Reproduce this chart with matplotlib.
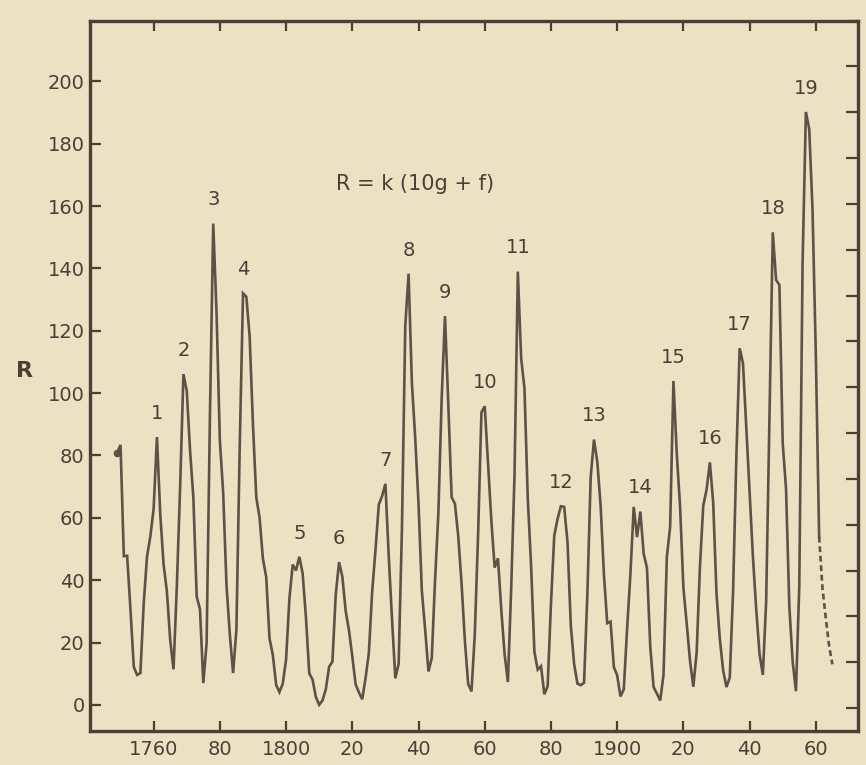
import numpy as np
import matplotlib
matplotlib.use("Agg")
import matplotlib.pyplot as plt

# yearly sunspot numbers (solid part)
years = np.arange(1749, 1962)
spots = [
    80.9, 83.4, 47.7, 47.8, 30.7, 12.2, 9.6, 10.2, 32.4, 47.6,
    54.0, 62.9, 85.9, 61.2, 45.1, 36.4, 20.9, 11.4, 37.8, 69.8,
    106.1, 100.8, 81.6, 66.5, 34.8, 30.6, 7.0, 19.8, 92.5, 154.4,
    125.9, 84.8, 68.1, 38.5, 22.8, 10.2, 24.1, 82.9, 132.0, 130.9,
    118.1, 89.9, 66.6, 60.0, 46.9, 41.0, 21.3, 16.0, 6.4, 4.1,
    6.8, 14.5, 34.0, 45.0, 43.1, 47.5, 42.2, 28.1, 10.1, 8.1,
    2.5, 0.0, 1.4, 5.0, 12.2, 13.9, 35.4, 45.8, 41.1, 30.1,
    23.9, 15.6, 6.6, 4.0, 1.8, 8.5, 16.6, 36.3, 49.6, 64.2,
    67.0, 70.9, 47.8, 27.5, 8.5, 13.2, 56.9, 121.5, 138.3, 103.2,
    85.7, 64.6, 36.7, 24.2, 10.7, 15.0, 40.1, 61.5, 98.5, 124.7,
    96.3, 66.6, 64.5, 54.1, 39.0, 20.6, 6.7, 4.3, 22.7, 54.8,
    93.8, 95.8, 77.2, 59.1, 44.0, 47.0, 30.5, 16.3, 7.3, 37.6,
    74.0, 139.0, 111.2, 101.6, 66.2, 44.7, 17.0, 11.3, 12.4, 3.4,
    6.0, 32.3, 54.3, 59.7, 63.7, 63.5, 52.2, 25.4, 13.1, 6.8,
    6.3, 7.1, 35.6, 73.0, 85.1, 78.0, 64.0, 41.8, 26.2, 26.7,
    12.1, 9.5, 2.7, 5.0, 24.4, 42.0, 63.5, 53.8, 62.0, 48.5,
    43.9, 18.6, 5.7, 3.6, 1.4, 9.6, 47.4, 57.1, 103.9, 80.6,
    63.6, 37.6, 26.1, 14.2, 5.8, 16.7, 44.3, 63.9, 69.0, 77.8,
    64.9, 35.7, 21.2, 11.1, 5.7, 8.7, 36.1, 79.7, 114.4, 109.6,
    88.8, 67.8, 47.5, 30.6, 16.3, 9.6, 33.2, 92.6, 151.6, 136.3,
    134.7, 83.9, 69.4, 31.5, 13.9, 4.4, 38.0, 141.7, 190.2, 184.8,
    159.0, 112.3, 53.9,
]

# dashed tail (forecast)
tail_years = [1961, 1962, 1963, 1964, 1965]
tail_spots = [53.9, 37.5, 27.9, 19.0, 13.0]

# cycle numbers and the year of each maximum
cycle_labels = [str(i) for i in range(1, 20)]
cycle_peaks = [1761, 1769, 1778, 1787, 1804, 1816, 1830, 1837, 1848, 1860,
               1870, 1883, 1893, 1907, 1917, 1928, 1937, 1947, 1957]

xticks = [1760, 1780, 1800, 1820, 1840, 1860, 1880, 1900, 1920, 1940, 1960]
xtick_labels = ["1760", "80", "1800", "20", "40", "60", "80", "1900", "20", "40", "60"]
yticks = list(range(0, 201, 20))

paper = "#ece1c3"
ink = "#4b4036"
line_ink = "#5e5246"

plt.rcParams["font.family"] = ["DejaVu Sans"]

fig = plt.figure(figsize=(8.66, 7.65), dpi=100, facecolor=paper)
ax = fig.add_axes([0.104, 0.044, 0.887, 0.929], facecolor=paper)

ax.plot(years, spots, color=line_ink, lw=1.9, solid_joinstyle="miter")
ax.plot(years[0], spots[0], "o", color=line_ink, ms=4.5)
ax.plot(tail_years, tail_spots, color=line_ink, lw=1.9, ls=(0, (2.2, 1.4)))

lookup = dict(zip(years, spots))
for lab, yr in zip(cycle_labels, cycle_peaks):
    ax.annotate(lab, (yr, lookup[yr]), xytext=(0, 17), textcoords="offset points",
                ha="center", va="center", fontsize=14, color=ink)

ax.text(1839, 167, "R = k (10g + f)", fontsize=15, color=ink, ha="center", va="center")
ax.text(-0.085, 107, "R", transform=ax.get_yaxis_transform(), fontsize=16,
        color=ink, ha="center", va="center", fontweight="bold")

ax.set_xlim(1740.8, 1972.8)
ax.set_ylim(-8.5, 219.5)

ax.set_xticks(xticks)
ax.set_xticklabels(xtick_labels)
ax.set_yticks(yticks)

for s in ax.spines.values():
    s.set_color(ink)
    s.set_linewidth(2.4)

ax.tick_params(axis="x", direction="in", length=7, width=1.6, color=ink,
               labelsize=14, labelcolor=ink, pad=6, top=True)
ax.tick_params(axis="y", direction="in", length=8, width=1.6, color=ink,
               labelsize=14, labelcolor=ink, pad=4)

# unlabelled ticks along the right edge
ax2 = ax.twinx()
ax2.set_ylim(ax.get_ylim())
ax2.set_yticks(np.arange(-1, 222, 14.7))
ax2.tick_params(axis="y", direction="in", length=9, width=1.6, color=ink,
                labelright=False)
for s in ax2.spines.values():
    s.set_visible(False)

fig.savefig("out.png", dpi=100, facecolor=paper)
